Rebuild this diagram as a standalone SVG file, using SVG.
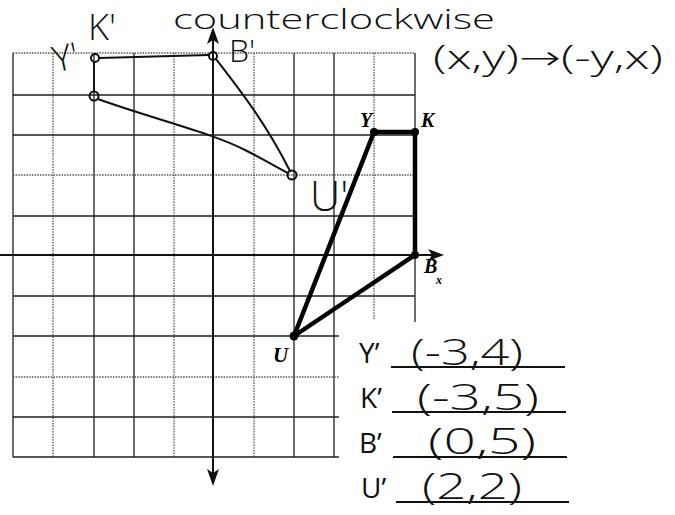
<svg xmlns="http://www.w3.org/2000/svg" width="675" height="515" viewBox="0 0 675 515">
<style>
.g{stroke:#1e1e1e;stroke-width:1.3;fill:none}
.d{stroke:#555;stroke-width:1.3;stroke-dasharray:1.5 1.2;fill:none}
.ax{stroke:#111;stroke-width:2;fill:none}
.orig{stroke:#000;stroke-width:4.5;fill:none;stroke-linejoin:round;stroke-linecap:round}
.pen{stroke:#111;stroke-width:2;fill:none;stroke-linecap:round}
.hand{font-family:"Open Sans","DejaVu Sans",sans-serif;font-weight:300;fill:#111}
.lbl{font-family:"Liberation Serif",serif;font-style:italic;font-weight:bold;fill:#000}
.tab{font-family:"Open Sans","Liberation Sans",sans-serif;fill:#111}
.ul{stroke:#111;stroke-width:2}
.arr{fill:#111}
</style>
<rect width="675" height="515" fill="#fff"/>
<g id="grid">
<line class="g" x1="13" y1="53" x2="13" y2="457"/>
<line class="d" x1="53" y1="53" x2="53" y2="457"/>
<line class="g" x1="94" y1="53" x2="94" y2="457"/>
<line class="g" x1="134" y1="53" x2="134" y2="457"/>
<line class="d" x1="174" y1="53" x2="174" y2="457"/>
<line class="d" x1="254" y1="53" x2="254" y2="457"/>
<line class="g" x1="294" y1="53" x2="294" y2="457"/>
<line class="g" x1="334" y1="53" x2="334" y2="457"/>
<line class="d" x1="374" y1="53" x2="374" y2="320"/>
<line class="g" x1="415" y1="53" x2="415" y2="322"/>
<line class="d" x1="13" y1="53" x2="415" y2="53"/>
<line class="g" x1="13" y1="95" x2="415" y2="95"/>
<line class="g" x1="13" y1="135" x2="415" y2="135"/>
<line class="d" x1="13" y1="175" x2="415" y2="175"/>
<line class="g" x1="13" y1="216" x2="415" y2="216"/>
<line class="g" x1="13" y1="296" x2="415" y2="296"/>
<line class="g" x1="13" y1="336" x2="339" y2="336"/>
<line class="d" x1="13" y1="377" x2="339" y2="377"/>
<line class="g" x1="13" y1="417" x2="339" y2="417"/>
<line class="g" x1="13" y1="457" x2="339" y2="457"/>
</g>
<g id="axes">
<line class="ax" x1="213" y1="38" x2="213" y2="476"/>
<path class="arr" d="M213,27 L219,44 L213,40 L207,44 z"/>
<path class="arr" d="M213,486 L207,469 L213,473 L219,469 z"/>
<line class="ax" x1="0" y1="255" x2="434" y2="255" stroke-width="2.6"/>
<path class="arr" d="M444,255 L428,249 L432,255 L428,261 z"/>
</g>
<g id="connectors">
<polygon class="orig" points="374,132 415,132 415,255 294,336"/>
<path class="pen" d="M99,58 L209,55"/>
<path class="pen" d="M94,62 L94,91"/>
<path class="pen" d="M98,99 C150,118 210,132 245,150 C265,160 278,168 288,173"/>
<path class="pen" d="M216,59 C240,90 265,122 290,171"/>
</g>
<g id="Y">
<circle cx="374" cy="132" r="4" fill="#000"/>
<text class="lbl" x="360" y="127" font-size="20">Y</text>
</g>
<g id="K">
<circle cx="415" cy="132" r="4" fill="#000"/>
<text class="lbl" x="421" y="127" font-size="20">K</text>
</g>
<g id="B">
<circle cx="415" cy="255" r="4" fill="#000"/>
<text class="lbl" x="424" y="273" font-size="20">B</text>
<text class="lbl" x="436" y="284" font-size="12">x</text>
</g>
<g id="U">
<circle cx="294" cy="336" r="4.5" fill="#000"/>
<text class="lbl" x="273" y="362" font-size="21" font-weight="normal">U</text>
</g>
<g id="K-prime">
<circle class="pen" cx="95" cy="58" r="4"/>
<text class="hand" x="88" y="40" font-size="36">K'</text>
</g>
<g id="Y-prime">
<circle class="pen" cx="94" cy="96" r="4.5"/>
<text class="hand" x="52" y="70" font-size="36" transform="rotate(-12 65 55)">Y'</text>
</g>
<g id="B-prime">
<circle class="pen" cx="213" cy="56" r="4"/>
<text class="hand" x="229" y="62" font-size="32">B'</text>
</g>
<g id="U-prime">
<circle class="pen" cx="292" cy="175" r="4.5"/>
<text class="hand" x="310" y="211" font-size="42">U'</text>
</g>
<g id="title">
<text class="hand" x="173" y="29" font-size="27" textLength="322" lengthAdjust="spacingAndGlyphs">counterclockwise</text>
<text class="hand" x="433" y="69" font-size="33" textLength="230" lengthAdjust="spacingAndGlyphs">(x,y)→(-y,x)</text>
</g>
<g id="table">
<text class="tab" x="359" y="363" font-size="28">Y’</text>
<line class="ul" x1="391" y1="367" x2="565" y2="367"/>
<text class="hand" x="467" y="365" font-size="37" text-anchor="middle" textLength="112" lengthAdjust="spacingAndGlyphs">(-3,4)</text>
<text class="tab" x="360" y="408" font-size="28">K’</text>
<line class="ul" x1="392" y1="412" x2="566" y2="412"/>
<text class="hand" x="478" y="410" font-size="37" text-anchor="middle" textLength="122" lengthAdjust="spacingAndGlyphs">(-3,5)</text>
<text class="tab" x="359" y="453" font-size="28">B’</text>
<line class="ul" x1="393" y1="457" x2="567" y2="457"/>
<text class="hand" x="482" y="454" font-size="37" text-anchor="middle" textLength="108" lengthAdjust="spacingAndGlyphs">(0,5)</text>
<text class="tab" x="361" y="498" font-size="28">U’</text>
<line class="ul" x1="396" y1="502" x2="569" y2="502"/>
<text class="hand" x="472" y="499" font-size="37" text-anchor="middle" textLength="100" lengthAdjust="spacingAndGlyphs">(2,2)</text>
</g>
</svg>
